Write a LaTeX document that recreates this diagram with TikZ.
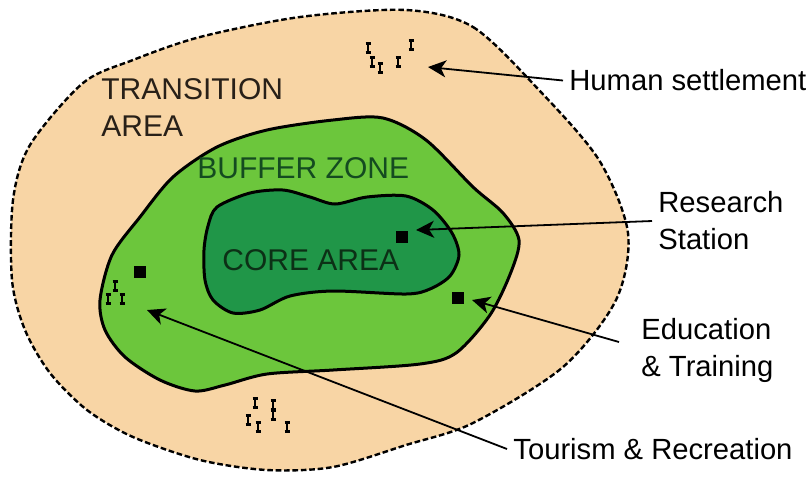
\documentclass[tikz,border=0pt]{standalone}
\usepackage{fontspec}
\setmainfont{Liberation Sans}
\usetikzlibrary{arrows.meta, positioning}
\definecolor{transtan}{RGB}{248, 213, 165}
\definecolor{buffergreen}{RGB}{108, 198, 60}
\definecolor{coregreen}{RGB}{32, 150, 72}
\definecolor{bufferink}{RGB}{20, 75, 32}
\definecolor{coreink}{RGB}{12, 48, 22}
\definecolor{transink}{RGB}{40, 32, 24}

\begin{document}
\begin{tikzpicture}[
    x=0.5pt, y=-0.5pt,
    rim/.style={draw=black, line width=1.2pt, dash pattern=on 2.8pt off 1.4pt, fill=transtan},
    zone/.style={draw=black, line width=1.5pt},
    zonelabel/.style={inner sep=0pt, align=left, font=\fontsize{15}{18.5}\selectfont},
    note/.style={anchor=west, inner xsep=3pt, inner ysep=0pt, align=left, font=\fontsize{14.6}{18.5}\selectfont},
    station/.style={rectangle, fill=black, minimum size=6pt, inner sep=0pt},
    arrow/.style={-{Stealth[length=9pt, width=8.5pt, inset=2.5pt]}, line width=0.9pt},
    hut/.pic={\draw[line width=1.2pt] (-2.5,-4.5) -- (2.5,-4.5) (0,-4.5) -- (0,4.5) (-2.5,4.5) -- (2.5,4.5);}
]
\useasboundingbox (0,0) rectangle (812,479);

% Zones
\draw[rim] plot[smooth cycle] coordinates {
    (406,10) (473,27) (539,90) (599,160) (628,233) (616,300) (563,367)
    (473,423) (406,445) (333,467) (267,470) (200,460) (133,437) (87,410)
    (50,373) (25,330) (12,280) (13,200) (30,145) (83,83) (133,60) (200,37) (300,17)};
\draw[zone, fill=buffergreen] plot[smooth cycle] coordinates {
    (100,300) (112,255) (140,217) (173,177) (217,147) (267,130) (333,120)
    (383,118) (426,140) (473,187) (503,213) (519,240) (511,272) (490,315)
    (456,353) (420,364) (333,370) (267,374) (225,385) (195,391) (160,380)
    (125,357) (105,330)};
\draw[zone, fill=coregreen] plot[smooth cycle] coordinates {
    (217,207) (250,193) (283,190) (310,197) (335,204) (367,197) (406,196)
    (433,210) (452,233) (459,255) (450,276) (430,289) (406,294) (333,291)
    (290,296) (260,310) (233,313) (213,300) (205,280) (204,250) (208,226)};

% Zone labels
\node[zonelabel, anchor=north west, text=transink] (transition) at (101,78) {TRANSITION\\AREA};
\node[zonelabel, anchor=base west, text=bufferink] (buffer) at (197,178) {BUFFER ZONE};
\node[zonelabel, anchor=base west, text=coreink] (core) at (222,270) {CORE AREA};

% Stations
\node[station] (research sq) at (402,237) {};
\node[station] (education sq) at (458,298) {};
\node[station] (tourism sq) at (140,272) {};

% Settlements
\foreach \hx/\hy in {368/48, 372/62, 380/68, 398/62, 411/45,
                     115/286, 108/299, 122/299,
                     255/403, 273/405, 273/415, 248/420, 258/427, 287/427}
    \pic at (\hx,\hy) {hut};

% Notes
\node[note] (settlement) at (563,80.5) {Human settlement};
\node[note] (research) at (652,221) {Research\\Station};
\node[note] (education) at (635,350) {Education\\\& Training};
\node[note] (tourism) at (507,449) {Tourism \& Recreation};

% Arrow tips
\coordinate (settlement tip) at (428,67);
\coordinate (research tip) at (416,230);
\coordinate (education tip) at (472,300);
\coordinate (tourism tip) at (147,310);

% Arrows
\draw[arrow] (settlement.west) -- (settlement tip);
\draw[arrow] (research.west) -- (research tip);
\draw[arrow] ([xshift=-8pt, yshift=4pt]education.west) -- (education tip);
\draw[arrow] (tourism.west) -- (tourism tip);
\end{tikzpicture}
\end{document}
